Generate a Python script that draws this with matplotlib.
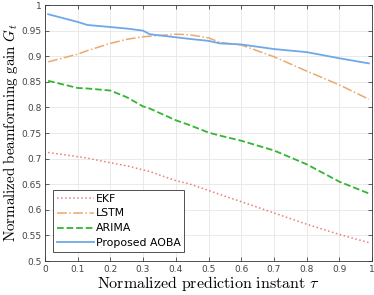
import matplotlib
matplotlib.use("Agg")
import matplotlib.pyplot as plt

plt.rcParams['mathtext.fontset'] = 'cm'

tau = [0.01, 0.1, 0.13, 0.2, 0.25, 0.3, 0.32, 0.4, 0.44, 0.5, 0.535, 0.6, 0.7, 0.8, 0.9, 0.99]

ekf   = [0.712, 0.704, 0.701, 0.692, 0.686, 0.678, 0.675, 0.657, 0.651, 0.638, 0.630, 0.616, 0.594, 0.572, 0.552, 0.536]
lstm  = [0.889, 0.904, 0.911, 0.925, 0.933, 0.938, 0.939, 0.943, 0.942, 0.936, 0.927, 0.922, 0.899, 0.871, 0.844, 0.816]
arima = [0.852, 0.838, 0.837, 0.833, 0.820, 0.802, 0.798, 0.775, 0.766, 0.751, 0.745, 0.735, 0.716, 0.689, 0.655, 0.632]
aoba  = [0.982, 0.967, 0.961, 0.957, 0.954, 0.950, 0.943, 0.937, 0.934, 0.930, 0.925, 0.923, 0.914, 0.908, 0.896, 0.886]

fig = plt.figure(figsize=(3.74, 2.95), dpi=100)
ax = fig.add_axes([0.12, 0.115, 0.875, 0.868])

ax.plot(tau, ekf, ':', color='#F07A7A', lw=1.1, label='EKF')
ax.plot(tau, lstm, '-.', color='#E9A96E', lw=1.1, label='LSTM')
ax.plot(tau, arima, '--', color='#33B533', lw=1.3, label='ARIMA')
ax.plot(tau, aoba, '-', color='#6EA8E8', lw=1.3, label='Proposed AOBA')

ax.set_xlim(0, 1)
ax.set_ylim(0.5, 1)
ax.set_xticks([i / 10 for i in range(11)])
ax.set_xticklabels(['0', '0.1', '0.2', '0.3', '0.4', '0.5', '0.6', '0.7', '0.8', '0.9', '1'])
ax.set_yticks([0.5 + 0.05 * i for i in range(11)])
ax.set_yticklabels(['0.5', '0.55', '0.6', '0.65', '0.7', '0.75', '0.8', '0.85', '0.9', '0.95', '1'])
ax.tick_params(direction='in', length=3, width=0.6, labelsize=6.5, colors='#444444',
               top=True, right=True, pad=2.5)
ax.grid(True, color='#E6E6E6', lw=0.6)
for s in ax.spines.values():
    s.set_linewidth(0.6)
    s.set_color('#333333')

ax.set_xlabel(r'$\mathrm{Normalized\ prediction\ instant}\ \tau$', fontsize=11.5, labelpad=0)
ax.set_ylabel(r'$\mathrm{Normalized\ beamforming\ gain}\ \bar{G}_t$', fontsize=10.8, labelpad=0.5)

leg = ax.legend(loc='lower left', fontsize=7.8, handlelength=3.4, handletextpad=0.2,
                borderpad=0.35, labelspacing=0.45, fancybox=False, framealpha=1,
                edgecolor='#333333', borderaxespad=0.6, bbox_to_anchor=(0.005, 0.01))
leg.get_frame().set_linewidth(0.6)

fig.savefig('out.png', dpi=100)
